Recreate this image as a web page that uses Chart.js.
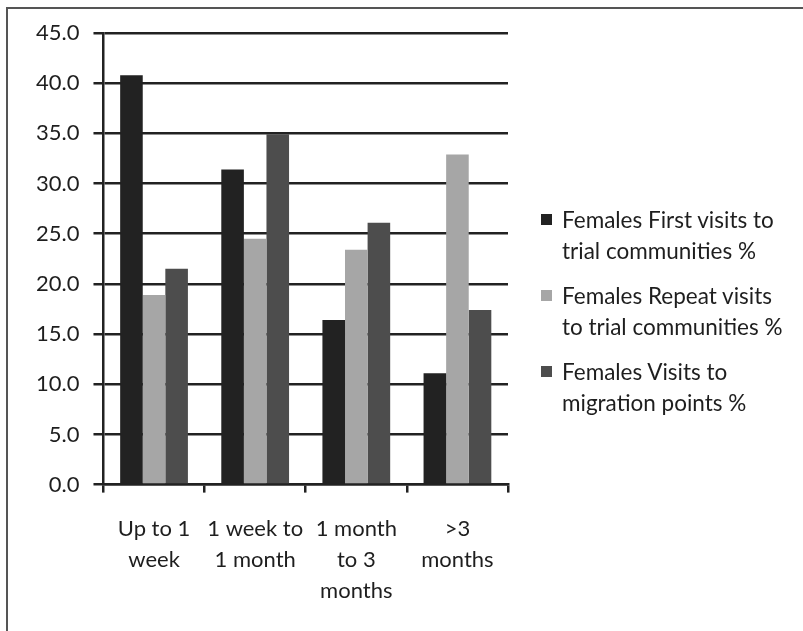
<!DOCTYPE html>
<html>
<head>
<meta charset="utf-8">
<script src="https://cdn.jsdelivr.net/npm/chart.js@4.4.0/dist/chart.umd.min.js"></script>
<style>
  html, body { margin: 0; padding: 0; background: #fff; }
  #wrap { position: relative; width: 803px; height: 631px; overflow: hidden; }
  #frame { position: absolute; left: 6px; top: 7px; width: 820px; height: 640px;
           border-left: 2px solid #555; border-top: 2px solid #555; }
  #chartBox { position: absolute; left: 0; top: 0; width: 803px; height: 631px; }
  #legend { position: absolute; left: 541px; top: 204px; font-family: Lato, sans-serif;
            font-size: 22.5px; color: #1e1e1e; }
  .item { position: relative; padding-left: 21px; line-height: 31px; margin-bottom: 14px; }
  .box { position: absolute; left: 0; top: 10px; width: 11px; height: 11px; }
</style>
</head>
<body>
<div id="wrap">
  <div id="frame"></div>
  <div id="chartBox"><canvas id="barChart"></canvas></div>
  <div id="legend"></div>
</div>
<script>
// Categorias y series
const categories = [['Up to 1', 'week'], ['1 week to', '1 month'], ['1 month', 'to 3', 'months'], ['>3', 'months']];
const firstVisits = [40.8, 31.4, 16.4, 11.1];
const repeatVisits = [18.9, 24.5, 23.4, 32.9];
const migrationVisits = [21.5, 34.9, 26.1, 17.4];
const seriesNames = [
    ['Females First visits to', 'trial communities %'],
    ['Females Repeat visits', 'to trial communities  %'],
    ['Females Visits to', 'migration points %']
];
const seriesColors = ['#222222', '#a6a6a6', '#4d4d4d'];
const yTicks = [0, 5, 10, 15, 20, 25, 30, 35, 40, 45];

const values = [firstVisits, repeatVisits, migrationVisits];
const font = { family: 'Lato, sans-serif', size: 22 };

// Leyenda en HTML (texto en varias lineas)
const legend = document.getElementById('legend');
seriesNames.forEach((lines, i) => {
    const item = document.createElement('div');
    item.className = 'item';
    item.innerHTML = '<span class="box" style="background:' + seriesColors[i] + '"></span>' + lines.join('<br>');
    legend.appendChild(item);
});

const ctx = document.getElementById('barChart').getContext('2d');
new Chart(ctx, {
    type: 'bar',
    data: {
        labels: categories,
        datasets: values.map((data, i) => ({
            label: seriesNames[i].join(' '),
            data: data,
            backgroundColor: seriesColors[i],
            barPercentage: 1,
            categoryPercentage: 0.67
        }))
    },
    options: {
        responsive: true,
        maintainAspectRatio: false,
        animation: false,
        layout: { padding: { left: 22, top: 33, right: 295, bottom: 4 } },
        scales: {
            x: {
                grid: { offset: true, drawOnChartArea: false, color: '#222', lineWidth: 2.5, tickLength: 8 },
                border: { color: '#222', width: 2.5 },
                ticks: { color: '#1e1e1e', font: Object.assign({ lineHeight: 1.4 }, font), padding: 21, maxRotation: 0 }
            },
            y: {
                min: 0,
                max: 45,
                afterBuildTicks: axis => { axis.ticks = yTicks.map(v => ({ value: v })); },
                grid: { color: '#222', lineWidth: 2.5, tickLength: 10 },
                border: { color: '#222', width: 2.5 },
                ticks: { color: '#1e1e1e', font: font, padding: 14, callback: v => v.toFixed(1) }
            }
        },
        plugins: {
            legend: { display: false },
            tooltip: { enabled: false }
        }
    }
});
</script>
</body>
</html>
